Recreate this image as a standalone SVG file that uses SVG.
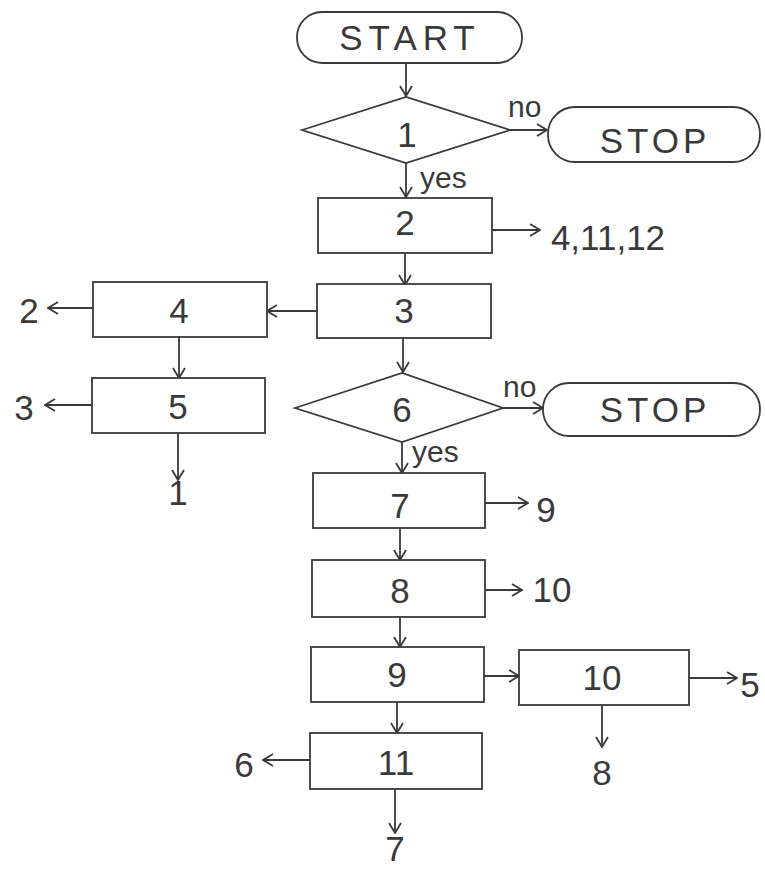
<svg xmlns="http://www.w3.org/2000/svg" width="765" height="869" viewBox="0 0 765 869">
<defs>
<style>
.s{fill:#fff;stroke:#3a3a3a;stroke-width:1.8}
.c{fill:none;stroke:#3a3a3a;stroke-width:1.8}
.t{font-family:"Liberation Sans",Arial,sans-serif;font-size:35px;fill:#3a3a3a;text-anchor:middle}
.l{font-family:"Liberation Sans",Arial,sans-serif;font-size:30px;fill:#3a3a3a}
</style>
<marker id="a" viewBox="0 0 12 14" refX="11" refY="7" markerWidth="12" markerHeight="14" markerUnits="userSpaceOnUse" orient="auto">
<path d="M1,1 L11,7 L1,13" fill="none" stroke="#3a3a3a" stroke-width="1.8"/>
</marker>
</defs>
<rect width="765" height="869" fill="#fff"/>
<g id="connectors">
<path class="c" marker-end="url(#a)" d="M406,63 V96"/>
<path class="c" marker-end="url(#a)" d="M510,130 H547"/>
<path class="c" marker-end="url(#a)" d="M406,163 V197"/>
<path class="c" marker-end="url(#a)" d="M492,230 H540"/>
<path class="c" marker-end="url(#a)" d="M405,253 V285"/>
<path class="c" marker-end="url(#a)" d="M317,311 H267"/>
<path class="c" marker-end="url(#a)" d="M93,308 H48"/>
<path class="c" marker-end="url(#a)" d="M179,337 V378"/>
<path class="c" marker-end="url(#a)" d="M92,405 H45"/>
<path class="c" marker-end="url(#a)" d="M178,433 V480"/>
<path class="c" marker-end="url(#a)" d="M403,338 V372"/>
<path class="c" marker-end="url(#a)" d="M503,408 H543"/>
<path class="c" marker-end="url(#a)" d="M402,442 V473"/>
<path class="c" marker-end="url(#a)" d="M485,503 H528"/>
<path class="c" marker-end="url(#a)" d="M400,528 V560"/>
<path class="c" marker-end="url(#a)" d="M485,590 H522"/>
<path class="c" marker-end="url(#a)" d="M400,617 V647"/>
<path class="c" marker-end="url(#a)" d="M484,676 H519"/>
<path class="c" marker-end="url(#a)" d="M689,678 H737"/>
<path class="c" marker-end="url(#a)" d="M602,705 V747"/>
<path class="c" marker-end="url(#a)" d="M397,702 V733"/>
<path class="c" marker-end="url(#a)" d="M310,760 H263"/>
<path class="c" marker-end="url(#a)" d="M395,789 V833"/>
<text class="l" x="508" y="117">no</text>
<text class="l" x="420" y="188">yes</text>
<text class="t" x="608" y="250">4,11,12</text>
<text class="t" x="29" y="323">2</text>
<text class="t" x="24" y="420">3</text>
<text class="t" x="178" y="505">1</text>
<text class="l" x="503" y="397">no</text>
<text class="l" x="412" y="462">yes</text>
<text class="t" x="546" y="522">9</text>
<text class="t" x="552" y="602">10</text>
<text class="t" x="750" y="697">5</text>
<text class="t" x="602" y="785">8</text>
<text class="t" x="244" y="777">6</text>
<text class="t" x="395" y="861">7</text>
</g>
<g id="start">
<rect class="s" x="297" y="12" width="225" height="51" rx="25"/>
<text class="t" x="410" y="50" style="letter-spacing:6px">START</text>
</g>
<g id="d1">
<polygon class="s" points="302,130 406,97 510,130 406,163"/>
<text class="t" x="407" y="147">1</text>
</g>
<g id="stop1">
<rect class="s" x="548" y="107" width="212" height="55" rx="27"/>
<text class="t" x="655" y="153" style="letter-spacing:4px">STOP</text>
</g>
<g id="b2">
<rect class="s" x="318" y="198" width="174" height="55"/>
<text class="t" x="405" y="235">2</text>
</g>
<g id="b3">
<rect class="s" x="317" y="284" width="174" height="54"/>
<text class="t" x="404" y="323">3</text>
</g>
<g id="b4">
<rect class="s" x="93" y="282" width="174" height="55"/>
<text class="t" x="179" y="323">4</text>
</g>
<g id="b5">
<rect class="s" x="92" y="378" width="173" height="55"/>
<text class="t" x="178" y="419">5</text>
</g>
<g id="d6">
<polygon class="s" points="295,408 402,373 503,408 402,442"/>
<text class="t" x="402" y="422">6</text>
</g>
<g id="stop2">
<rect class="s" x="543" y="383" width="217" height="53" rx="26"/>
<text class="t" x="655" y="422" style="letter-spacing:4px">STOP</text>
</g>
<g id="b7">
<rect class="s" x="313" y="473" width="172" height="55"/>
<text class="t" x="400" y="518">7</text>
</g>
<g id="b8">
<rect class="s" x="312" y="560" width="173" height="57"/>
<text class="t" x="400" y="603">8</text>
</g>
<g id="b9">
<rect class="s" x="311" y="647" width="173" height="55"/>
<text class="t" x="397" y="687">9</text>
</g>
<g id="b10">
<rect class="s" x="519" y="650" width="170" height="55"/>
<text class="t" x="602" y="690">10</text>
</g>
<g id="b11">
<rect class="s" x="310" y="733" width="172" height="56"/>
<text class="t" x="396" y="775">11</text>
</g>
</svg>
